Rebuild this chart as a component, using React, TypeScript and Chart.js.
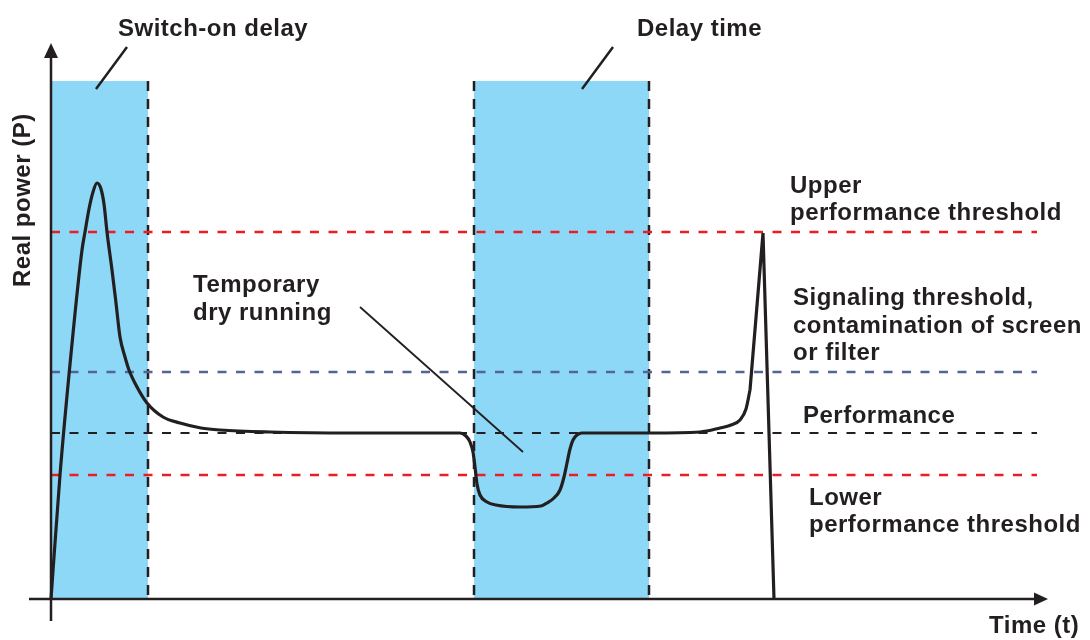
import React, { useEffect, useRef } from "react";
import { Chart, registerables } from "chart.js";

Chart.register(...registerables);

// ---- data (time and power in arbitrary units) ----
const curveTime = [
  0, 9, 20, 31, 34, 38, 42, 46, 50, 53, 56, 61, 65, 69, 74, 78, 86, 96, 112, 129, 150, 169, 219, 300,
  409, 415, 419, 422, 424, 426, 429, 436, 445, 469, 490, 496, 503, 509, 513, 516, 519, 522, 526, 531,
  600, 649, 669, 680, 689, 695, 699,
];
const curvePower = [
  0, 124, 245, 349, 367, 390, 407, 416, 410, 395, 367, 329, 296, 262, 242, 229, 212, 196, 182, 176, 171, 169, 167, 166,
  166, 163, 157, 147, 132, 115, 104, 97, 94, 92, 93, 96, 101, 109, 122, 136, 150, 159, 164, 166,
  166, 167, 171, 174, 179, 190, 209,
];
const spikeTime = [699, 712, 723];
const spikePower = [209, 366, 0];

const thresholdNames = ["Upper performance threshold", "Signaling threshold", "Performance", "Lower performance threshold"];
const thresholdValues = [367, 227, 166, 124];
const thresholdEnd = 986;

const regionNames = ["Switch-on delay", "Delay time"];
const regionStart = [0, 423];
const regionEnd = [97, 598];
const regionTop = 518;

const axisMaxTime = 996;
const axisMaxPower = 555;

// ---- labels ----
const topLabels = ["Switch-on delay", "Delay time"];
const upperLabel = ["Upper", "performance threshold"];
const signalLabel = ["Signaling threshold,", "contamination of screen", "or filter"];
const perfLabel = ["Performance"];
const lowerLabel = ["Lower", "performance threshold"];
const dryLabel = ["Temporary", "dry running"];
const xTitle = "Time (t)";
const yTitle = "Real power (P)";

const INK = "#231f20";
const RED = "#ed1c24";
const SLATE = "#51659a";
const BLUE = "rgb(141,216,246)";
const thresholdColors = [RED, SLATE, INK, RED];

const pts = (xs: number[], ys: number[]) => xs.map((x, i) => ({ x, y: ys[i] }));

const decorPlugin = {
  id: "decor",
  afterDatasetsDraw(chart: any) {
    const ctx = chart.ctx as CanvasRenderingContext2D;
    const xs = chart.scales.x;
    const ys = chart.scales.y;
    const x0 = xs.getPixelForValue(0);
    const y0 = ys.getPixelForValue(0);
    const top = chart.chartArea.top;
    const right = chart.chartArea.right;
    ctx.save();
    ctx.strokeStyle = INK;
    ctx.fillStyle = INK;
    ctx.lineWidth = 2.5;
    ctx.setLineDash([]);
    // y axis
    ctx.beginPath();
    ctx.moveTo(x0, y0 + 22);
    ctx.lineTo(x0, top + 12);
    ctx.stroke();
    ctx.beginPath();
    ctx.moveTo(x0 - 7, top + 14);
    ctx.lineTo(x0 + 7, top + 14);
    ctx.lineTo(x0, top - 1);
    ctx.closePath();
    ctx.fill();
    // x axis
    ctx.beginPath();
    ctx.moveTo(x0 - 22, y0);
    ctx.lineTo(right - 10, y0);
    ctx.stroke();
    ctx.beginPath();
    ctx.moveTo(right - 13, y0 - 6.5);
    ctx.lineTo(right - 13, y0 + 6.5);
    ctx.lineTo(right + 1, y0);
    ctx.closePath();
    ctx.fill();
    ctx.restore();
  },
  afterDraw(chart: any) {
    const ctx = chart.ctx as CanvasRenderingContext2D;
    ctx.save();
    ctx.fillStyle = INK;
    ctx.strokeStyle = INK;
    ctx.font = 'bold 24px "Liberation Sans", Arial, sans-serif';
    (ctx as any).letterSpacing = "0.5px";
    ctx.textAlign = "left";
    ctx.textBaseline = "alphabetic";
    const lines = (arr: string[], x: number, y: number, lh = 28) =>
      arr.forEach((t, i) => ctx.fillText(t, x, y + i * lh));
    ctx.fillText(topLabels[0], 118, 36);
    ctx.fillText(topLabels[1], 637, 36);
    lines(upperLabel, 790, 193, 27);
    lines(signalLabel, 793, 305, 27.5);
    lines(perfLabel, 803, 423);
    lines(lowerLabel, 809, 505, 27);
    lines(dryLabel, 193, 292);
    ctx.fillText(xTitle, 989, 633);
    ctx.save();
    ctx.translate(30, 287);
    ctx.rotate(-Math.PI / 2);
    ctx.fillText(yTitle, 0, 0);
    ctx.restore();
    // leader lines
    ctx.lineCap = "butt";
    ctx.lineWidth = 2.5;
    ctx.beginPath();
    ctx.moveTo(127, 47);
    ctx.lineTo(96, 89);
    ctx.moveTo(613, 47);
    ctx.lineTo(582, 89);
    ctx.stroke();
    ctx.lineWidth = 1.8;
    ctx.beginPath();
    ctx.moveTo(360, 307);
    ctx.lineTo(523, 452);
    ctx.stroke();
    ctx.restore();
  },
};

export default function App() {
  const ref = useRef<HTMLCanvasElement | null>(null);
  useEffect(() => {
    if (!ref.current) return;
    const datasets: any[] = [];
    // curve
    datasets.push({
      label: "Real power",
      data: pts(curveTime, curvePower),
      borderColor: INK,
      borderWidth: 3.2,
      pointRadius: 0,
      cubicInterpolationMode: "monotone",
      fill: false,
      order: 0,
      clip: false,
    });
    datasets.push({
      label: "Real power spike",
      data: pts(spikeTime, spikePower),
      borderColor: INK,
      borderWidth: 3.2,
      pointRadius: 0,
      tension: 0,
      fill: false,
      order: 0,
      clip: false,
    });
    thresholdValues.forEach((v, i) => {
      datasets.push({
        label: thresholdNames[i],
        data: [{ x: 0, y: v }, { x: thresholdEnd, y: v }],
        borderColor: thresholdColors[i],
        borderWidth: i === 2 ? 2.2 : 2.5,
        borderDash: [9, 9.5],
        pointRadius: 0,
        fill: false,
        order: 2,
      });
    });
    regionStart.forEach((s, i) => {
      const e = regionEnd[i];
      datasets.push({
        label: regionNames[i],
        data: [{ x: s, y: regionTop }, { x: e, y: regionTop }],
        borderWidth: 0,
        borderColor: "rgba(0,0,0,0)",
        backgroundColor: BLUE,
        pointRadius: 0,
        fill: "origin",
        order: 5,
      });
      const edges = i === 0 ? [e] : [s, e];
      edges.forEach((xv) => {
        datasets.push({
          label: regionNames[i] + " edge",
          data: [{ x: xv, y: regionTop }, { x: xv, y: 0 }],
          borderColor: INK,
          borderWidth: 2.5,
          borderDash: [10, 8],
          pointRadius: 0,
          fill: false,
          order: 3,
        });
      });
    });

    const chart = new Chart(ref.current, {
      type: "line",
      data: { datasets },
      options: {
        animation: false,
        responsive: false,
        devicePixelRatio: 1,
        layout: { padding: { left: 51, right: 43, top: 44, bottom: 41 } },
        plugins: { legend: { display: false }, tooltip: { enabled: false }, title: { display: false } },
        scales: {
          x: { type: "linear", min: 0, max: axisMaxTime, display: false },
          y: { type: "linear", min: 0, max: axisMaxPower, display: false },
        },
      },
      plugins: [decorPlugin],
    });
    return () => chart.destroy();
  }, []);

  return (
    <div style={{ position: "fixed", left: 0, top: 0, width: 1090, height: 640, background: "#fff" }}>
      <canvas ref={ref} width={1090} height={640} style={{ width: 1090, height: 640 }} />
    </div>
  );
}
